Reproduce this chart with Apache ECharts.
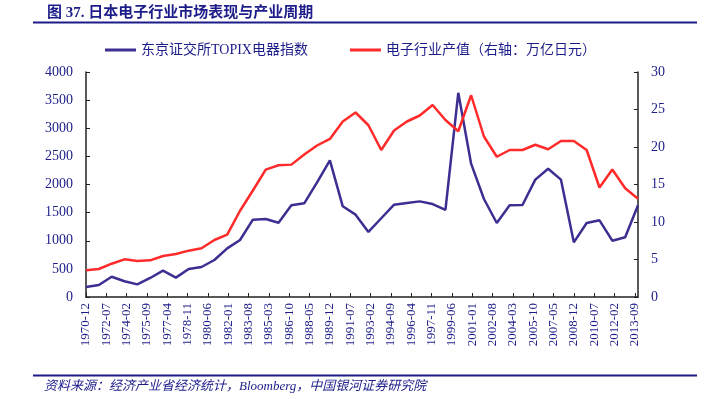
<!DOCTYPE html>
<html>
<head>
<meta charset="utf-8">
<script src="https://cdn.jsdelivr.net/npm/echarts@6/dist/echarts.min.js"></script>
<style>
  html, body { margin: 0; padding: 0; background: #fff; }
  #chart { width: 710px; height: 399px; }
</style>
</head>
<body>
<div id="chart"></div>
<script>
// 年末数据点（1970-12 至 2013-12）
var pointMonths = [];
for (var y = 1970; y <= 2013; y++) pointMonths.push(y + '-12');

// 东京证交所TOPIX电器指数（左轴）
var topixValues = [178, 213, 360, 280, 225, 338, 468, 344, 498, 533,
  658, 865, 1013, 1375, 1387, 1321, 1630, 1665, 2038, 2430,
  1612, 1464, 1156, 1400, 1641, 1671, 1700, 1653, 1547, 3630,
  2370, 1742, 1316, 1630, 1636, 2086, 2281, 2086, 972, 1316,
  1363, 1001, 1061, 1630];

// 电子行业产值（右轴：万亿日元）
var outputValues = [3.56, 3.73, 4.44, 5.02, 4.8, 4.89, 5.47, 5.73, 6.18, 6.49,
  7.6, 8.31, 11.5, 14.2, 16.98, 17.56, 17.65, 19.0, 20.2, 21.07,
  23.4, 24.6, 22.9, 19.6, 22.2, 23.4, 24.2, 25.6, 23.6, 22.1,
  26.9, 21.4, 18.7, 19.6, 19.6, 20.3, 19.7, 20.8, 20.8, 19.6,
  14.6, 17.0, 14.5, 13.1];

// 横轴按月分类，每19个月一个标签
var months = [];
for (var yy = 1970; yy <= 2013; yy++) {
  for (var m = 1; m <= 12; m++) {
    if (yy === 1970 && m < 12) continue;
    months.push(yy + '-' + (m < 10 ? '0' + m : m));
  }
}

var navy = '#1c1c8a';
var serif = '"Liberation Serif", "Noto Sans CJK SC", serif';

var chart = echarts.init(document.getElementById('chart'));
chart.setOption({
  animation: false,
  textStyle: { fontFamily: serif },
  title: {
    text: '图 37. 日本电子行业市场表现与产业周期',
    left: 42, top: 1,
    textStyle: { fontSize: 15, fontWeight: 'bold', color: navy, fontFamily: serif }
  },
  graphic: [
    { type: 'line', shape: { x1: 33, y1: 22.5, x2: 697, y2: 22.5 }, style: { stroke: navy, lineWidth: 2 } },
    { type: 'line', shape: { x1: 33, y1: 375.5, x2: 697, y2: 375.5 }, style: { stroke: navy, lineWidth: 2 } },
    { type: 'text', left: 44, top: 380,
      style: { text: '资料来源：经济产业省经济统计，Bloomberg，中国银河证券研究院', fill: navy,
        font: 'italic 13px ' + serif } }
  ],
  legend: {
    top: 38, left: 100,
    itemWidth: 31, itemHeight: 3, itemGap: 42,
    icon: 'rect',
    textStyle: { fontSize: 14, color: navy, fontFamily: serif },
    data: ['东京证交所TOPIX电器指数', '电子行业产值（右轴：万亿日元）']
  },
  grid: { left: 86, right: 72, top: 72, bottom: 102 },
  xAxis: {
    type: 'category',
    data: months,
    boundaryGap: false,
    axisLine: { lineStyle: { color: '#222', width: 1.5 } },
    axisTick: { inside: true, length: 4, interval: 18, lineStyle: { color: '#222' } },
    axisLabel: { interval: 18, rotate: 90, color: navy, fontSize: 13, margin: 6, fontFamily: serif }
  },
  yAxis: [
    {
      type: 'value', min: 0, max: 4000, interval: 500,
      splitLine: { show: false },
      axisLine: { show: true, lineStyle: { color: '#222', width: 1.5 } },
      axisTick: { show: true, inside: true, length: 4, lineStyle: { color: '#222' } },
      axisLabel: { color: navy, fontSize: 14, margin: 13, fontFamily: serif,
        formatter: function (v) { return String(v); } }
    },
    {
      type: 'value', min: 0, max: 30, interval: 5,
      splitLine: { show: false },
      axisLine: { show: true, lineStyle: { color: '#222', width: 1.5 } },
      axisTick: { show: true, inside: true, length: 4, lineStyle: { color: '#222' } },
      axisLabel: { color: navy, fontSize: 14, margin: 13, fontFamily: serif }
    }
  ],
  series: [
    {
      name: '东京证交所TOPIX电器指数',
      type: 'line',
      yAxisIndex: 0,
      showSymbol: false,
      color: '#3b2f92',
      lineStyle: { width: 2.5, color: '#3b2f92' },
      data: pointMonths.map(function (d, i) { return [d, topixValues[i]]; })
    },
    {
      name: '电子行业产值（右轴：万亿日元）',
      type: 'line',
      yAxisIndex: 1,
      showSymbol: false,
      color: '#ff2a2a',
      lineStyle: { width: 2.5, color: '#ff2a2a' },
      data: pointMonths.map(function (d, i) { return [d, outputValues[i]]; })
    }
  ]
});
</script>
</body>
</html>
